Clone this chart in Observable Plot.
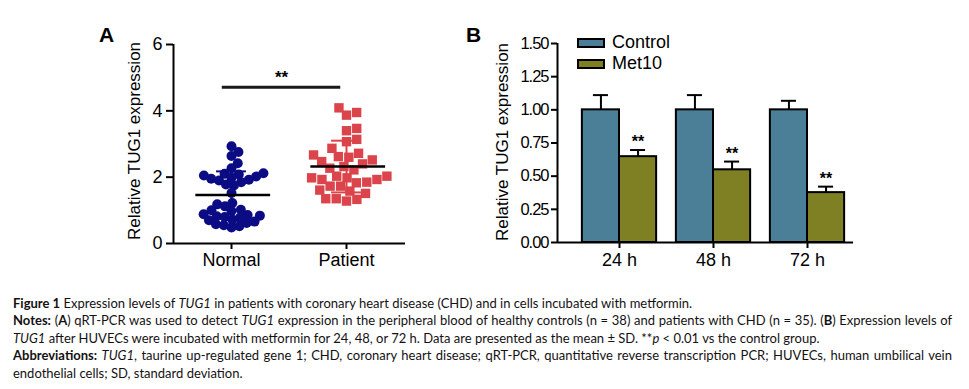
<!DOCTYPE html>
<html>
<head>
<meta charset="utf-8">
<script src="https://cdn.jsdelivr.net/npm/d3@7"></script>
<script src="https://cdn.jsdelivr.net/npm/@observablehq/plot@0.6"></script>
<style>
  html, body { margin: 0; padding: 0; background: #fff; }
  #page { position: relative; width: 969px; height: 389px; overflow: hidden; font-family: "Liberation Sans", Arial, sans-serif; }
  .panel { position: absolute; }
  .plabel { position: absolute; font: bold 21px "Liberation Sans", Arial, sans-serif; color: #000; }
  .ylab { position: absolute; font: 17px "Liberation Sans", Arial, sans-serif; color: #000; white-space: nowrap; transform: translate(-50%, -50%) rotate(-90deg); }
  .leg { position: absolute; font: 18px "Liberation Sans", Arial, sans-serif; color: #000; display: flex; align-items: center; }
  .sw { width: 24px; height: 6px; border: 2px solid #000; margin-right: 7px; }
  #caption { position: absolute; left: 13px; top: 295px; width: 939px; font: 13px Lato, "Open Sans", sans-serif; color: #141112; line-height: 17.4px; }
  #caption .j { text-align: justify; text-align-last: justify; }
  #caption b { font-weight: bold; }
</style>
</head>
<body>
<div id="page">
  <div class="plabel" style="left:99px; top:23px;">A</div>
  <div class="plabel" style="left:466px; top:23px;">B</div>
  <div class="ylab" style="left:135px; top:141px;">Relative TUG1 expression</div>
  <div class="ylab" style="left:503px; top:142px;">Relative TUG1 expression</div>
  <div id="panelA" class="panel" style="left:90px; top:20px;"></div>
  <div id="panelB" class="panel" style="left:460px; top:20px;"></div>
  <div id="legend"></div>
  <div id="caption">
    <div><b>Figure 1</b> Expression levels of <i>TUG1</i> in patients with coronary heart disease (CHD) and in cells incubated with metformin.</div>
    <div class="j"><b>Notes:</b> (<b>A</b>) qRT-PCR was used to detect <i>TUG1</i> expression in the peripheral blood of healthy controls (n = 38) and patients with CHD (n = 35). (<b>B</b>) Expression levels of</div>
    <div><i>TUG1</i> after HUVECs were incubated with metformin for 24, 48, or 72 h. Data are presented as the mean ± SD. **<i>p</i> &lt; 0.01 vs the control group.</div>
    <div class="j"><b>Abbreviations:</b> <i>TUG1</i>, taurine up-regulated gene 1; CHD, coronary heart disease; qRT-PCR, quantitative reverse transcription PCR; HUVECs, human umbilical vein</div>
    <div>endothelial cells; SD, standard deviation.</div>
  </div>
</div>
<script>
// ---------- Panel A data ----------
const groupsA = ["Normal", "Patient"];
const normalValues = [2.93, 2.76, 2.64, 2.42, 2.27, 2.12, 2.10, 2.08, 2.05, 2.02,
                      1.98, 1.95, 1.92, 1.90, 1.85, 1.78, 1.75, 1.52, 1.22, 1.18,
                      1.12, 1.02, 1.00, 0.98, 0.88, 0.86, 0.84, 0.82, 0.80, 0.78,
                      0.72, 0.70, 0.66, 0.62, 0.58, 0.55, 0.52, 0.48];
const patientValues = [4.09, 3.95, 3.87, 3.47, 3.40, 3.14, 3.07, 2.87, 2.72, 2.67,
                       2.62, 2.60, 2.52, 2.47, 2.40, 2.32, 2.27, 2.22, 2.03, 2.03,
                       1.98, 1.98, 1.93, 1.93, 1.85, 1.83, 1.73, 1.73, 1.61, 1.58,
                       1.51, 1.35, 1.35, 1.33, 1.28];
const groupMeans = [1.46, 2.32];
const groupSDs = [0.715, 0.78];
const sigLevelA = 4.71;
const sigLabel = "**";
const yTicksA = [0, 2, 4, 6];

// ---------- Panel B data ----------
const times = ["24 h", "48 h", "72 h"];
const seriesNames = ["Control", "Met10"];
const controlMeans = [1.00, 1.00, 1.00];
const controlSDs = [0.111, 0.111, 0.068];
const met10Means = [0.647, 0.548, 0.376];
const met10SDs = [0.050, 0.062, 0.045];
const yTicksB = [0, 0.25, 0.5, 0.75, 1.0, 1.25, 1.5];

const navy = "#0b0b84";
const red = "#db444b";
const steel = "#4b7e97";
const olive = "#7f7f23";
const font = "'Liberation Sans', Arial, sans-serif";

// simple beeswarm layout (pixel offsets), like a column scatter plot
function swarm(values, pxPerUnit, D) {
  const order = values.map((v, i) => i).sort((a, b) => values[a] - values[b]);
  const placed = [], xs = new Array(values.length);
  for (const i of order) {
    const y = values[i] * pxPerUnit;
    const cands = [0];
    for (const p of placed) {
      const dy = y - p.y;
      if (Math.abs(dy) < D) { const dx = Math.sqrt(D * D - dy * dy); cands.push(p.x + dx, p.x - dx); }
    }
    cands.sort((a, b) => Math.abs(a) - Math.abs(b));
    let chosen = 0;
    for (const c of cands) {
      if (placed.every(p => (p.x - c) ** 2 + (p.y - y) ** 2 >= D * D - 1e-6)) { chosen = c; break; }
    }
    placed.push({x: chosen, y}); xs[i] = chosen;
  }
  return xs;
}

// ---------- Panel A ----------
{
  const W = 330, H = 260, mL = 83, mR = 15, mT = 24, mB = 37;
  const step = 115;                       // px between group centres
  const x0 = -58 / step, x1 = (W - mL - mR - 58) / step;
  const pxY = (H - mT - mB) / 6;
  const offN = swarm(normalValues, pxY, 8);
  const offP = swarm(patientValues, pxY, 10.5);
  const ptsN = normalValues.map((v, i) => ({g: 0, v, x: 0 + offN[i] / step}));
  const ptsP = patientValues.map((v, i) => ({g: 1, v, x: 1 + offP[i] / step}));
  const stats = groupMeans.map((m, i) => ({g: i, m, lo: m - groupSDs[i], hi: m + groupSDs[i], c: i === 0 ? navy : red}));
  const sig = [{a: -0.08, b: 0.95, y: sigLevelA}];

  const plotA = Plot.plot({
    width: W, height: H, marginLeft: mL, marginRight: mR, marginTop: mT, marginBottom: mB,
    style: {fontFamily: font, fontSize: "18px", color: "#000", background: "transparent"},
    x: {domain: [x0, x1], axis: null},
    y: {domain: [0, 6], axis: null},
    marks: [
      Plot.axisY({ticks: yTicksA, tickFormat: d => String(d), tickSize: 7, tickPadding: 4, strokeWidth: 2, label: null, fontSize: 18}),
      Plot.axisX({ticks: [0, 1], tickFormat: i => groupsA[i], tickSize: 6, tickPadding: 4, strokeWidth: 2, label: null, fontSize: 18}),
      Plot.dot(ptsN, {x: "x", y: "v", r: 5, fill: navy}),
      Plot.dot(ptsP, {x: "x", y: "v", r: 5.3, symbol: "square", fill: red}),
      // SD whiskers
      Plot.ruleX(stats, {x: "g", y1: "lo", y2: "hi", stroke: "c", strokeWidth: 2}),
      Plot.ruleY(stats, {y: "lo", x1: d => d.g - 0.13, x2: d => d.g + 0.13, stroke: "c", strokeWidth: 2}),
      Plot.ruleY(stats, {y: "hi", x1: d => d.g - 0.13, x2: d => d.g + 0.13, stroke: "c", strokeWidth: 2}),
      // mean lines
      Plot.ruleY(stats, {y: "m", x1: d => d.g - 0.31, x2: d => d.g + 0.34, stroke: "#000", strokeWidth: 2.5}),
      // significance bar
      Plot.ruleY(sig, {y: "y", x1: "a", x2: "b", stroke: "#1a1a1a", strokeWidth: 3}),
      Plot.text(sig, {x: d => (d.a + d.b) / 2, y: "y", text: () => sigLabel, dy: -10, fontSize: 17, fontWeight: "bold", fill: "#000"}),
      // axis lines
      Plot.ruleX([x0], {strokeWidth: 2}),
      Plot.ruleY([0], {strokeWidth: 2})
    ]
  });
  document.getElementById("panelA").appendChild(plotA);
}

// ---------- Panel B ----------
{
  const W = 420, H = 260, mL = 97, mR = 27, mT = 23, mB = 38;
  const step = 94;
  const x0 = -62 / step, x1 = (W - mL - mR - 62) / step;
  const bw = 0.395;
  const bars = [];
  times.forEach((t, i) => {
    bars.push({i, s: "Control", v: controlMeans[i], e: controlSDs[i], a: i - bw, b: i, c: steel});
    bars.push({i, s: "Met10", v: met10Means[i], e: met10SDs[i], a: i, b: i + bw, c: olive});
  });
  const metBars = bars.filter(d => d.s === "Met10");

  const plotB = Plot.plot({
    width: W, height: H, marginLeft: mL, marginRight: mR, marginTop: mT, marginBottom: mB,
    style: {fontFamily: font, fontSize: "18px", color: "#000", background: "transparent"},
    x: {domain: [x0, x1], axis: null},
    y: {domain: [0, 1.5], axis: null},
    marks: [
      Plot.axisY({ticks: yTicksB, tickFormat: d3.format(".2f"), tickSize: 6, tickPadding: 3, strokeWidth: 2, label: null, fontSize: 16.5}),
      Plot.axisX({ticks: [0, 1, 2], tickFormat: i => times[i], tickSize: 6, tickPadding: 5, strokeWidth: 2, label: null, fontSize: 18}),
      // error bars (upper)
      Plot.ruleX(bars, {x: d => (d.a + d.b) / 2, y1: "v", y2: d => d.v + d.e, stroke: "#000", strokeWidth: 2}),
      Plot.ruleY(bars, {y: d => d.v + d.e, x1: d => (d.a + d.b) / 2 - 0.08, x2: d => (d.a + d.b) / 2 + 0.08, stroke: "#000", strokeWidth: 2}),
      Plot.rectY(bars, {x1: "a", x2: "b", y1: 0, y2: "v", fill: "c", stroke: "#000", strokeWidth: 2}),
      Plot.text(metBars, {x: d => (d.a + d.b) / 2, y: d => d.v + d.e, text: () => sigLabel, dy: -8, fontSize: 16, fontWeight: "bold", fill: "#000"}),
      Plot.ruleX([x0], {strokeWidth: 2}),
      Plot.ruleY([0], {strokeWidth: 2})
    ]
  });
  // condense y tick labels (reference uses a narrow face)
  d3.select(plotB).selectAll('g[aria-label="y-axis tick label"] text').style("letter-spacing", "-1px");
  document.getElementById("panelB").appendChild(plotB);
}

// ---------- Legend ----------
{
  const colors = [steel, olive];
  const tops = [32, 53];
  const leg = document.getElementById("legend");
  seriesNames.forEach((s, i) => {
    const row = document.createElement("div");
    row.className = "leg";
    row.style.left = "577px";
    row.style.top = tops[i] + "px";
    const sw = document.createElement("div");
    sw.className = "sw";
    sw.style.background = colors[i];
    row.appendChild(sw);
    row.appendChild(document.createTextNode(s));
    leg.appendChild(row);
  });
}
</script>
</body>
</html>
